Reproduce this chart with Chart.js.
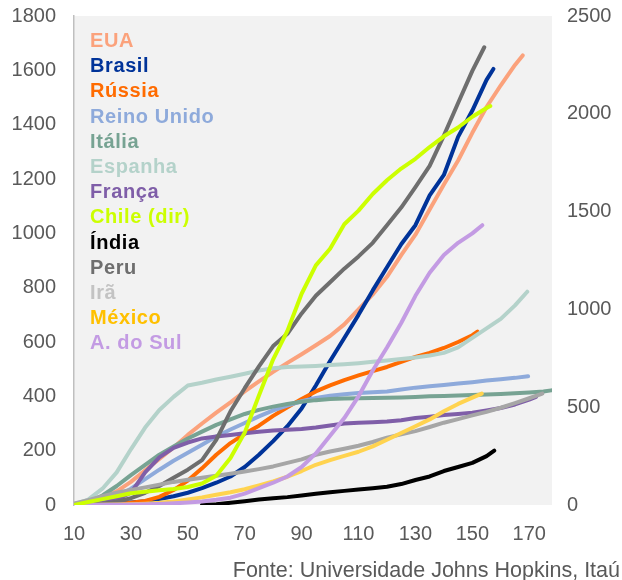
<!DOCTYPE html>
<html>
<head>
<meta charset="utf-8">
<script src="https://cdn.jsdelivr.net/npm/chart.js@4.4.1/dist/chart.umd.min.js"></script>
<style>
html, body { margin: 0; padding: 0; background: #fff; }
#wrap { position: relative; width: 622px; height: 580px; }
#legend { position: absolute; left: 90px; top: 28px; font: bold 20px "Liberation Sans", Arial, sans-serif; letter-spacing: 0.6px; line-height: 25.2px; }
#fonte { position: absolute; right: 2px; top: 558px; font: 21.5px "Liberation Sans", Arial, sans-serif; color: #595959; white-space: nowrap; }
</style>
</head>
<body>
<div id="wrap">
  <canvas id="chart" width="622" height="580"></canvas>
  <div id="legend"></div>
  <div id="fonte">Fonte: Universidade Johns Hopkins, Itaú</div>
</div>
<script>
// days since start, every 5 days; the last value of each series sits on its own end day
const days = [10,15,20,25,30,35,40,45,50,55,60,65,70,75,80,85,90,95,100,105,110,115,120,125,130,135,140,145,150,155,160,165,170,175];
const xTicks = [10,30,50,70,90,110,130,150,170];

const names = ["EUA","Brasil","Rússia","Reino Unido","Itália","Espanha","França","Chile (dir)","Índia","Peru","Irã","México","A. do Sul"];

const eua     = [2,8,25,50,85,128,170,212,258,300,340,378,418,455,490,523,555,588,622,665,720,775,840,920,995,1088,1180,1268,1370,1465,1545,1620,1655];
const brasil  = [0,1,3,5,9,14,22,32,45,62,82,105,140,185,235,290,355,440,530,615,700,790,875,960,1030,1140,1215,1355,1452,1565,1605];
const russia  = [0,1,2,4,8,15,30,55,90,135,185,228,262,292,328,360,390,418,440,460,477,493,508,527,545,560,578,600,625,638];
const reino   = [0,3,12,30,60,95,130,163,192,222,252,278,302,326,348,366,382,394,402,408,412,415,418,425,432,437,442,447,452,458,463,468,474];
const italia  = [0,12,35,70,110,148,185,215,245,270,295,315,335,350,362,372,380,386,390,392,393,394,395,396,398,400,401,403,405,407,409,411,414,418,422];
const espanha = [2,20,60,120,205,285,350,398,440,450,462,472,483,495,503,508,510,512,515,518,522,527,532,537,543,550,560,580,615,650,685,735,785];
const franca  = [0,2,8,20,45,120,175,210,230,245,252,258,264,270,274,277,280,285,293,300,303,305,307,312,320,325,331,335,340,348,357,370,388,398];
const chile   = [0,15,30,45,60,68,75,82,92,110,150,240,370,560,745,890,1080,1225,1310,1435,1505,1590,1660,1720,1770,1830,1885,1930,1985,2030,2040];
const india   = [null,null,null,null,null,null,null,null,null,1,3,8,14,20,25,29,35,41,47,52,57,62,67,77,92,105,125,140,155,180,200];
const peru    = [0,2,5,12,25,45,70,100,130,165,240,345,430,510,585,630,705,770,820,870,915,965,1030,1095,1170,1248,1360,1480,1598,1685];
const ira     = [5,18,32,45,55,65,75,85,93,100,108,115,123,132,142,155,168,185,197,207,218,232,248,260,272,287,303,316,330,343,358,375,393,410];
const mexico  = [0,0,1,2,3,5,8,13,20,28,38,47,58,72,87,104,125,148,165,181,196,216,240,265,290,315,345,372,395,410];
const sul     = [0,0,1,1,2,3,4,6,9,13,19,27,42,62,82,105,140,190,255,320,400,495,580,670,770,855,920,965,1000,1030];

const endDays = [167.7,157.4,151.8,169.6,177.7,169.3,172.4,156.3,157.7,154.2,174.6,153.3,153.5];
const allValues = [eua,brasil,russia,reino,italia,espanha,franca,chile,india,peru,ira,mexico,sul];

const lineColors = ["#fba27c","#003399","#ff6b00","#8eaadb","#77a393","#b4d2ca","#7f5ea8","#ccff00","#000000","#6e6e6e","#a6a6a6","#ffd34f","#c39be3"];
const textColors = ["#fba27c","#003399","#ff6b00","#8eaadb","#77a393","#b4d2ca","#7f5ea8","#ccff00","#000000","#6e6e6e","#c3c3c3","#ffc000","#c39be3"];

const fontFamily = '"Liberation Sans", Arial, sans-serif';
const tickColor = "#595959";
const plain = v => String(v);

const datasets = names.map((n, i) => ({
  label: n,
  data: allValues[i].map((v, j, a) => ({ x: j === a.length - 1 ? endDays[i] : days[j], y: v })),
  borderColor: lineColors[i],
  borderWidth: 4,
  borderJoinStyle: "round",
  borderCapStyle: "round",
  pointRadius: 0,
  tension: 0,
  fill: false,
  yAxisID: n === "Chile (dir)" ? "y2" : "y",
  order: n === "Chile (dir)" ? 0 : 100 - i,
}));

const plotBg = {
  id: "plotBg",
  beforeDraw(chart) {
    const a = chart.chartArea, ctx = chart.ctx;
    ctx.save();
    ctx.fillStyle = "#f2f2f2";
    ctx.fillRect(a.left, a.top, a.right - a.left, a.bottom - a.top);
    ctx.restore();
  }
};

// fixed axis sizes so the plot sits where it does in the original
const fitY = w => s => { s.width = w; s.paddingTop = 0; s.paddingBottom = 0; };

new Chart(document.getElementById("chart"), {
  type: "line",
  data: { datasets },
  options: {
    responsive: false,
    animation: false,
    layout: { padding: { top: 16, bottom: 30, left: 0, right: 0 } },
    plugins: { legend: { display: false }, tooltip: { enabled: false } },
    scales: {
      x: {
        type: "linear", min: 10, max: 178,
        grid: { display: false, drawTicks: false },
        border: { display: false },
        ticks: { color: tickColor, font: { size: 20, family: fontFamily }, padding: 17, callback: plain },
        afterBuildTicks: s => { s.ticks = xTicks.map(v => ({ value: v })); },
        afterFit: s => { s.height = 45; s.paddingLeft = 0; s.paddingRight = 0; }
      },
      y: {
        position: "left", min: 0, max: 1800,
        grid: { display: false, drawTicks: false },
        border: { display: true, color: "#bfbfbf", width: 1.5 },
        ticks: { stepSize: 200, color: tickColor, font: { size: 20, family: fontFamily }, padding: 18, callback: plain },
        afterFit: fitY(74)
      },
      y2: {
        position: "right", min: 0, max: 2500,
        grid: { display: false, drawTicks: false },
        border: { display: false },
        ticks: { stepSize: 500, color: tickColor, font: { size: 20, family: fontFamily }, padding: 15, callback: plain },
        afterFit: fitY(70)
      }
    }
  },
  plugins: [plotBg]
});

// text legend inside the plot, same order as the series
const legend = document.getElementById("legend");
names.forEach((n, i) => {
  const d = document.createElement("div");
  d.textContent = n;
  d.style.color = textColors[i];
  legend.appendChild(d);
});
</script>
</body>
</html>
